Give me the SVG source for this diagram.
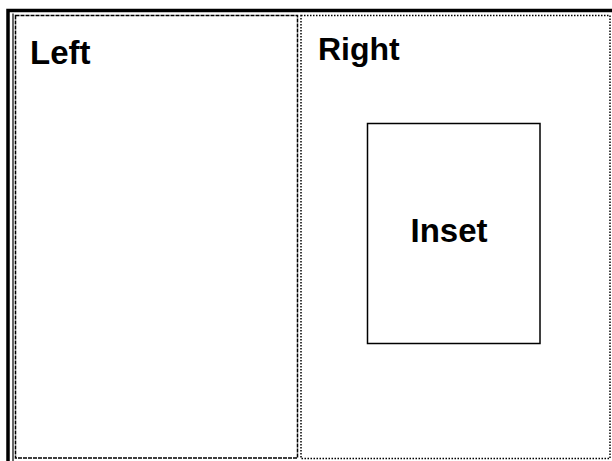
<svg xmlns="http://www.w3.org/2000/svg" width="612" height="461" viewBox="0 0 612 461">
  <style>
    .lbl { font-family: "Liberation Sans", Arial, sans-serif; font-weight: bold; fill: #000; }
    .panel { fill: none; stroke: #000; }
  </style>
  <rect x="0" y="0" width="612" height="461" fill="#fff"/>
  <g id="frame">
    <path d="M 8 461 V 10.5 H 612" fill="none" stroke="#000" stroke-width="3.5"/>
    <line x1="13" y1="13.5" x2="13" y2="461" stroke="#000" stroke-width="1.2"/>
  </g>
  <g id="left">
    <rect class="panel" x="15.5" y="15.5" width="282" height="442.5" stroke-width="1.5" stroke-dasharray="4 1"/>
    <text class="lbl" x="30" y="64" font-size="33">Left</text>
  </g>
  <g id="right">
    <rect class="panel" x="301" y="15.5" width="309" height="443" stroke-width="1.5" stroke-dasharray="1.5 1.5"/>
    <text class="lbl" x="318" y="60" font-size="32">Right</text>
  </g>
  <g id="inset">
    <rect class="panel" x="367.5" y="123.5" width="172.5" height="220" stroke-width="1.5"/>
    <text class="lbl" x="449" y="242" font-size="33" text-anchor="middle">Inset</text>
  </g>
  <g id="connectors"/>
</svg>
